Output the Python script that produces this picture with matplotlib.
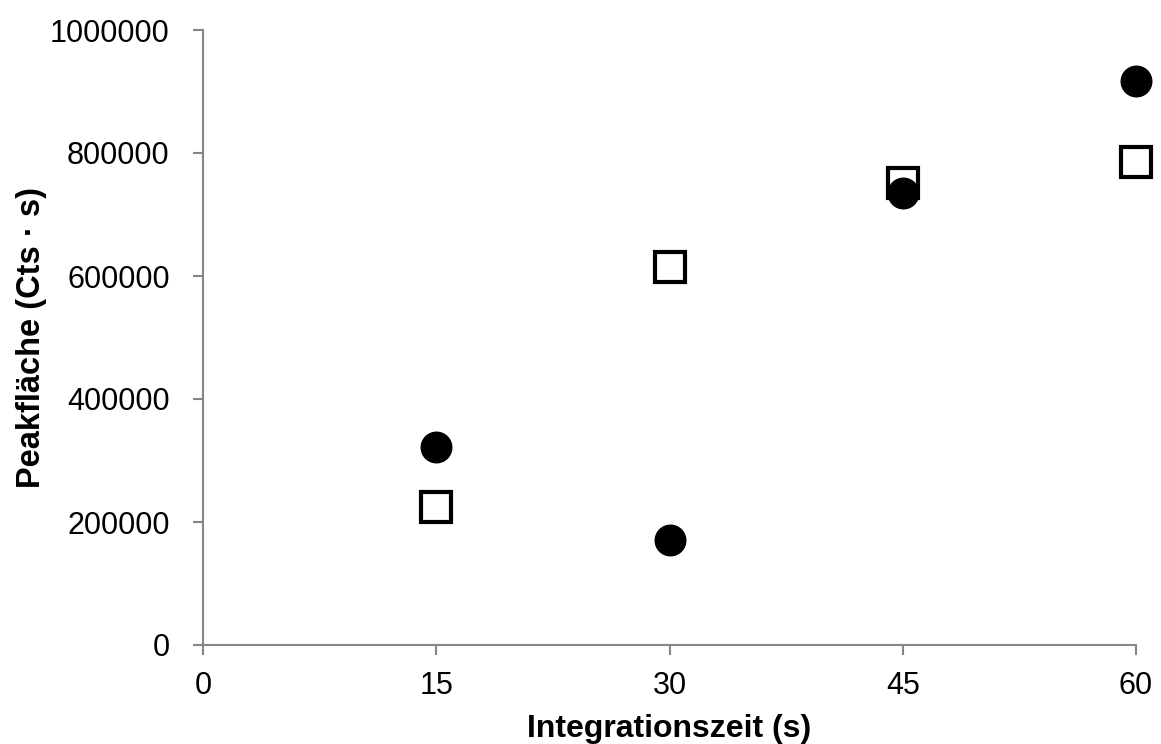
import matplotlib
matplotlib.use('Agg')
import matplotlib.pyplot as plt
from matplotlib.ticker import StrMethodFormatter

plt.rcParams['font.family'] = ['Liberation Sans', 'DejaVu Sans']

# Integrationszeit (s)
t = [15, 30, 45, 60]
# Peakflaeche, two series
area_square = [224000, 615000, 751000, 785000]
area_circle = [322000, 171000, 735000, 917000]

fig = plt.figure(figsize=(11.61, 7.44), dpi=100)
ax = fig.add_axes([203 / 1161, 1 - 645 / 744, 933 / 1161, 615 / 744])

ax.plot(t, area_square, 's', ms=21, mfc='white', mec='black', mew=3, clip_on=False)
ax.plot(t, area_circle, 'o', ms=22, mfc='black', mec='black', clip_on=False)

ax.set_xlim(0, 60)
ax.set_ylim(0, 1000000)
ax.set_xticks([0, 15, 30, 45, 60])
ax.set_yticks(range(0, 1000001, 200000))
ax.yaxis.set_major_formatter(StrMethodFormatter('{x:.0f}'))

gray = '#868686'
for s in ['top', 'right']:
    ax.spines[s].set_visible(False)
for s in ['left', 'bottom']:
    ax.spines[s].set_color(gray)
    ax.spines[s].set_linewidth(1.5)
ax.tick_params(direction='out', length=7, width=1.5, color=gray, labelsize=22)
ax.tick_params(axis='x', pad=12)
ax.tick_params(axis='y', pad=17)

ax.set_xlabel('Integrationszeit (s)', fontsize=23, fontweight='bold')
ax.set_ylabel('Peakfläche (Cts · s)', fontsize=23.5, fontweight='bold')
ax.xaxis.set_label_coords(0.5, -0.112)
ax.yaxis.set_label_coords(-0.167, 0.5)

fig.savefig('out.png', dpi=100)
